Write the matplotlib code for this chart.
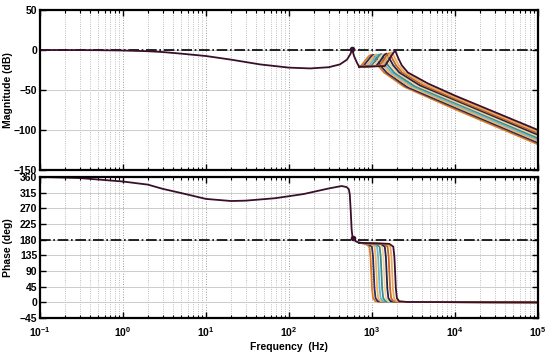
import numpy as np
import matplotlib.pyplot as plt
from matplotlib.ticker import LogLocator, NullFormatter

# shared part of the response (all cases identical below ~700 Hz)
f_mag = [0.1, 0.2, 0.5, 1, 2, 3, 5, 10, 20, 45, 100, 180, 300, 410, 500, 520, 550, 575, 610, 660, 700]
mag = [0, 0, -0.2, -0.6, -1.5, -2.5, -4.5, -7.5, -12, -18, -22, -23, -21.5, -18, -12, -9, -5, 1, -8, -16, -21]

f_ph = [0.1, 0.3, 1, 2, 3, 5, 10, 20, 30, 68, 150, 300, 430, 495, 525, 540, 555, 568, 580, 600, 640, 700]
ph = [360, 357, 347, 338, 326, 314, 297, 291, 292, 299, 311, 327, 334, 331, 325, 310, 260, 210, 190, 182, 175, 171]

# per-case tails (second resonance moves from ~1 kHz to ~1.9 kHz)
tail_colors = ['#e07b20', '#2b2d5e', '#f5b15c', '#6fb7c9', '#3d8c8a',
               '#f2d29a', '#1d2350', '#c8641e', '#e8a860', '#3a0f2c']

tail_f_mag = [
    [700, 735, 804, 862, 911, 951, 980, 1019, 1078, 1176, 1392, 2450, 1e4, 1e5],
    [700, 788, 861, 924, 977, 1019, 1050, 1092, 1155, 1260, 1491, 2625, 1e4, 1e5],
    [700, 848, 927, 994, 1051, 1096, 1130, 1175, 1243, 1356, 1605, 2825, 1e4, 1e5],
    [700, 908, 992, 1065, 1125, 1174, 1210, 1258, 1331, 1452, 1718, 3025, 1e4, 1e5],
    [700, 975, 1066, 1144, 1209, 1261, 1300, 1352, 1430, 1560, 1846, 3250, 1e4, 1e5],
    [700, 1050, 1148, 1232, 1302, 1358, 1400, 1456, 1540, 1680, 1988, 3500, 1e4, 1e5],
    [700, 1125, 1230, 1320, 1395, 1455, 1500, 1560, 1650, 1800, 2130, 3750, 1e4, 1e5],
    [700, 1215, 1328, 1426, 1507, 1571, 1620, 1685, 1782, 1944, 2300, 4050, 1e4, 1e5],
    [700, 1313, 1435, 1540, 1628, 1698, 1750, 1820, 1925, 2100, 2485, 4375, 1e4, 1e5],
    [700, 1425, 1558, 1672, 1767, 1843, 1900, 1976, 2090, 2280, 2698, 4750, 1e4, 1e5],
]
tail_mag = [
    [-21, -20, -15, -11, -8, -6.5, -6, -8.5, -12, -19, -28, -46, -74, -118],
    [-21, -20, -15, -11, -8, -6.5, -6, -8.5, -12, -19, -28, -46, -72, -116],
    [-21, -20, -15, -11, -7.5, -6, -5.5, -8, -12, -19, -28, -45.5, -70, -114],
    [-21, -20, -15, -11, -7.5, -6, -5.5, -8, -12, -19, -28, -45, -68, -112],
    [-21, -20, -15, -10.5, -7, -5.5, -5, -8, -12, -19, -28, -45, -66, -110],
    [-21, -20, -15, -10.5, -7, -5.5, -5, -8, -12, -19, -28, -44.5, -64.5, -108],
    [-21, -20, -15, -10.5, -6.5, -5, -4.5, -7.5, -12, -19, -28, -44, -62.5, -106],
    [-21, -20, -15, -10, -6, -4.5, -4, -7, -12, -19, -28, -43.5, -61, -104],
    [-21, -20, -14.5, -9.5, -5.5, -3.5, -3, -6.5, -12, -19, -28, -43, -59, -102],
    [-21, -20, -14, -9, -5, -2.5, 0, -5, -11, -19, -28, -42, -57, -100],
]

tail_f_ph = [
    [700, 833, 931, 960, 980, 1000, 1029, 1098, 1372, 1e5],
    [700, 893, 998, 1029, 1050, 1071, 1103, 1176, 1470, 1e5],
    [700, 961, 1074, 1107, 1130, 1153, 1187, 1266, 1582, 1e5],
    [700, 1029, 1150, 1186, 1210, 1234, 1271, 1355, 1694, 1e5],
    [700, 1105, 1235, 1274, 1300, 1326, 1365, 1456, 1820, 1e5],
    [700, 1190, 1330, 1372, 1400, 1428, 1470, 1568, 1960, 1e5],
    [700, 1275, 1425, 1470, 1500, 1530, 1575, 1680, 2100, 1e5],
    [700, 1377, 1539, 1588, 1620, 1652, 1701, 1814, 2268, 1e5],
    [700, 1488, 1663, 1715, 1750, 1785, 1838, 1960, 2450, 1e5],
    [700, 1615, 1805, 1862, 1900, 1938, 1995, 2128, 2660, 1e5],
]
tail_ph = [171, 168, 160, 130, 85, 40, 12, 3, 1, 0]

line_color = '#3a0f2c'

plt.rcParams['font.family'] = ['Liberation Sans', 'DejaVu Sans']
plt.rcParams['font.weight'] = 'bold'

fig = plt.figure(figsize=(5.5, 3.52), dpi=100)
ax1 = fig.add_axes([0.0727, 0.517, 0.9055, 0.4545])
ax2 = fig.add_axes([0.0727, 0.0966, 0.9055, 0.4006])

for ax in (ax1, ax2):
    ax.set_xscale('log')
    ax.set_xlim(0.1, 1e5)
    ax.xaxis.set_major_locator(LogLocator(base=10, numticks=10))
    ax.xaxis.set_minor_locator(LogLocator(base=10, subs=np.arange(2, 10), numticks=10))
    ax.xaxis.set_minor_formatter(NullFormatter())
    ax.grid(True, which='major', axis='x', color='#999999', ls=':', lw=0.7)
    ax.grid(True, which='minor', axis='x', color='#aaaaaa', ls=':', lw=0.6)
    ax.grid(True, which='major', axis='y', color='#cccccc', ls='-', lw=0.7)
    ax.tick_params(which='both', direction='in', top=True, right=True, labelsize=7.5, pad=2)
    ax.tick_params(which='major', length=4, width=1)
    ax.tick_params(which='minor', length=2.5, width=0.8)
    for s in ax.spines.values():
        s.set_linewidth(1.6)

# magnitude
ax1.axhline(0, color='black', ls='-.', lw=1.2)
for c, f, m in zip(tail_colors, tail_f_mag, tail_mag):
    ax1.plot(f, m, color=c, lw=1.3)
ax1.plot(f_mag, mag, color=line_color, lw=1.3)
ax1.plot([575], [1], 'o', color=line_color, ms=3)
ax1.set_ylim(-150, 50)
ax1.set_yticks([50, 0, -50, -100, -150])
ax1.tick_params(labelbottom=False)
ax1.set_ylabel('Magnitude (dB)', fontsize=7.5, fontweight='bold')
ax1.yaxis.set_label_coords(-0.055, 0.5)

# phase
ax2.axhline(180, color='black', ls='-.', lw=1.2)
for c, f in zip(tail_colors, tail_f_ph):
    ax2.plot(f, tail_ph, color=c, lw=1.3)
ax2.plot(f_ph, ph, color=line_color, lw=1.3)
ax2.plot([590], [186], 'o', color=line_color, ms=3)
ax2.set_ylim(-45, 360)
ax2.set_yticks(np.arange(-45, 361, 45))
ax2.tick_params(axis='x', which='major', pad=5)
ax2.set_ylabel('Phase (deg)', fontsize=7.5, fontweight='bold')
ax2.yaxis.set_label_coords(-0.055, 0.5)
ax2.set_xlabel('Frequency  (Hz)', fontsize=7.5, fontweight='bold', labelpad=2)

fig.savefig('out.png', dpi=100)
